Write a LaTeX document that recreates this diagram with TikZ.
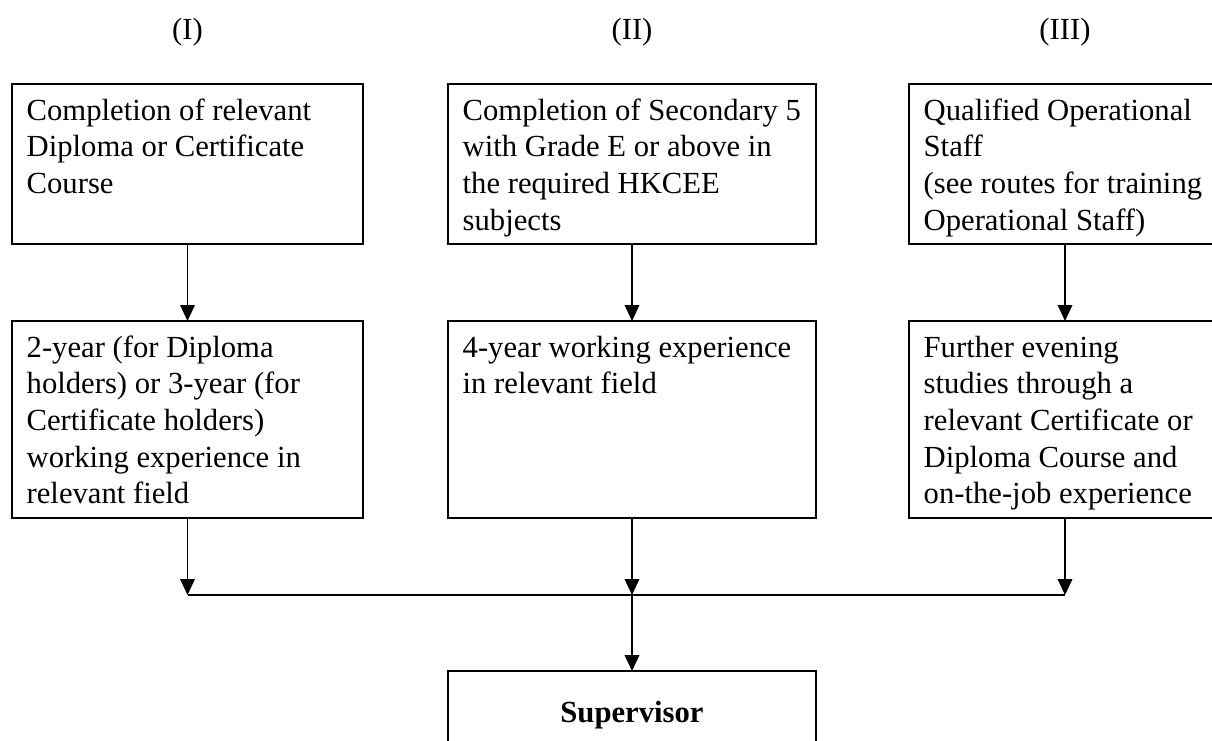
\documentclass[tikz,border=0pt]{standalone}
\usepackage{fontspec}
\setmainfont{Liberation Serif}
\usetikzlibrary{arrows.meta, positioning}

\tikzset{
  stage/.style={draw, line width=1.5pt, anchor=north west, outer sep=0pt,
    inner xsep=11pt, inner ysep=0pt, align=flush left, text height=27pt,
    font=\fontsize{23}{27.5}\selectfont},
  colhead/.style={font=\fontsize{23}{27.5}\selectfont},
  flow/.style={line width=1.1pt, -{Triangle[length=12pt, width=11pt]}},
  busline/.style={line width=1.1pt},
}

\begin{document}
\begin{tikzpicture}[x=0.75pt, y=-0.75pt]
  % frame of the page
  \path[use as bounding box, clip] (0,0) rectangle (1212,740);

  % entry requirements
  \node[stage, text width=241.25pt, text depth=93pt] (b1) at (12,84)
    {Completion of relevant\\ Diploma or Certificate\\ Course};
  \node[stage, text width=254pt, text depth=93pt] (b2) at (448,84)
    {\mbox{Completion of Secondary 5}\\ with Grade E or above in\\ the required HKCEE\\ subjects};
  \node[stage, text width=212pt, text depth=93pt] (b3) at (909,84)
    {Qualified Operational\\ Staff\\ \mbox{(see routes for training}\\ Operational Staff)};

  % route numbers
  \node[colhead] (h1) at ([yshift=39pt]b1.north) {(I)};
  \node[colhead] (h2) at ([yshift=39pt]b2.north) {(II)};
  \node[colhead] (h3) at ([yshift=39pt]b3.north) {(III)};

  % experience
  \node[stage, text width=241.25pt, text depth=120.75pt] (w1) at (12,321)
    {2-year (for Diploma\\ holders) or 3-year (for\\ Certificate holders)\\ working experience in\\ relevant field};
  \node[stage, text width=254pt, text depth=120.75pt] (w2) at (448,321)
    {\mbox{4-year working experience}\\ in relevant field};
  \node[stage, text width=212pt, text depth=120.75pt] (w3) at (909,321)
    {Further evening\\ studies through a\\ \mbox{relevant Certificate or}\\ \mbox{Diploma Course and}\\ \mbox{on-the-job experience}};

  % target post
  \node[stage, align=center, text width=254pt, text height=38.25pt, text depth=60pt,
    font=\fontsize{23}{27.5}\selectfont\bfseries] (sup) at (448,671) {Supervisor};

  \coordinate (bus) at (632,595);

  \draw[flow] (b1.south) -- (w1.north);
  \draw[flow] (b2.south) -- (w2.north);
  \draw[flow] (b3.south) -- (w3.north);

  \draw[flow] (w1.south) -- (w1.south |- bus);
  \draw[flow] (w2.south) -- (bus);
  \draw[flow] (w3.south) -- (w3.south |- bus);
  \draw[busline] (w1.south |- bus) -- (w3.south |- bus);
  \draw[flow] (bus) -- (sup.north);
\end{tikzpicture}
\end{document}
